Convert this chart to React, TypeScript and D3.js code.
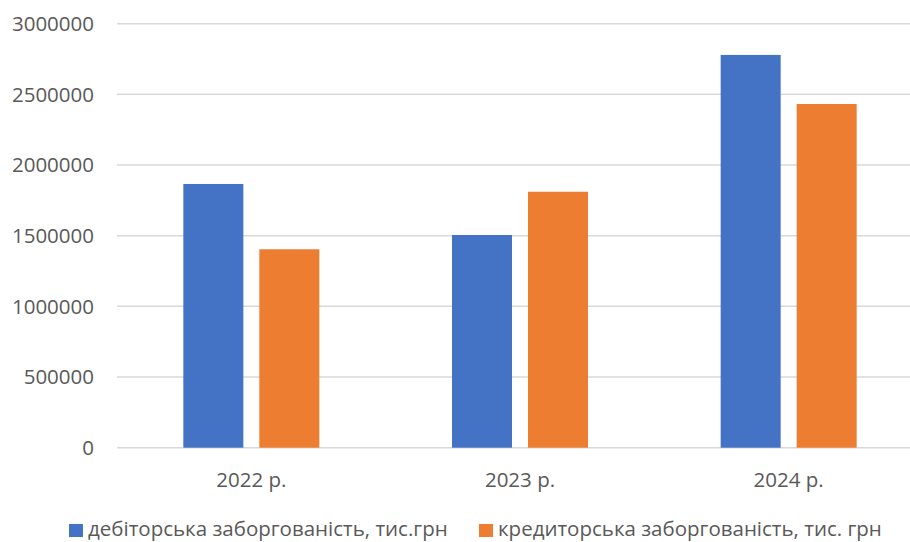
import React from "react";
import * as d3 from "d3";

const categories = ["2022 р.", "2023 р.", "2024 р."];
const seriesNames = [
  "дебіторська заборгованість, тис.грн",
  "кредиторська заборгованість, тис. грн",
];
const receivables = [1866000, 1505000, 2779000];
const payables = [1404000, 1811000, 2432000];
const yTicks = [0, 500000, 1000000, 1500000, 2000000, 2500000, 3000000];
const colors = ["#4472C4", "#ED7D31"];

const W = 910;
const H = 542;
const FONT = "'Open Sans', 'Noto Sans', sans-serif";
const TEXT = "#595959";

export default function App() {
  const seriesValues = [receivables, payables];
  const plotLeft = 117;
  const plotRight = 923;
  const x0 = d3.scaleBand<string>().domain(categories).range([plotLeft, plotRight]);
  const band = x0.bandwidth();
  const groupW = 136;
  const x1 = d3
    .scaleBand<string>()
    .domain(seriesNames)
    .range([(band - groupW) / 2, (band + groupW) / 2])
    .paddingInner(0.2105);
  const y = d3.scaleLinear().domain([0, 3000000]).range([447.7, 23.7]);

  return (
    <svg
      width={W}
      height={H}
      style={{ position: "absolute", left: 0, top: 0, background: "#fff" }}
    >
      {yTicks.map((t) => (
        <g key={t}>
          <line
            x1={plotLeft}
            x2={W}
            y1={y(t)}
            y2={y(t)}
            stroke="#d9d9d9"
            strokeWidth={1.5}
          />
          <text
            x={94}
            y={y(t)}
            dy="0.36em"
            textAnchor="end"
            fontFamily={FONT}
            fontSize={20.5}
            fill={TEXT}
          >
            {t}
          </text>
        </g>
      ))}
      {categories.map((c, i) => (
        <g key={c} transform={`translate(${x0(c)},0)`}>
          {seriesNames.map((s, j) => (
            <rect
              key={s}
              x={x1(s)}
              y={y(seriesValues[j][i])}
              width={x1.bandwidth()}
              height={y(0) - y(seriesValues[j][i])}
              fill={colors[j]}
            />
          ))}
          <text
            x={band / 2}
            y={487.3}
            textAnchor="middle"
            fontFamily={FONT}
            fontSize={20.5}
            fill={TEXT}
          >
            {c}
          </text>
        </g>
      ))}
      {seriesNames.map((s, j) => {
        const lx = j === 0 ? 69 : 479;
        return (
          <g key={s}>
            <rect x={lx} y={524} width={14} height={13} fill={colors[j]} />
            <text
              x={lx + 19}
              y={536.3}
              fontFamily={FONT}
              fontSize={20.5}
              fill={TEXT}
            >
              {s}
            </text>
          </g>
        );
      })}
    </svg>
  );
}
